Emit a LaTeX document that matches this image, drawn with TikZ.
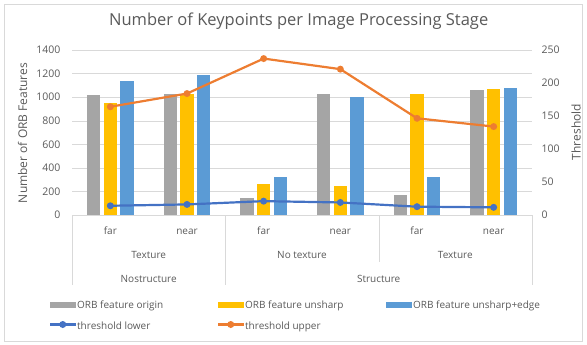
\documentclass[tikz,border=0pt]{standalone}
\usepackage{fontspec}
\setmainfont{Open Sans}
\usepackage{tikz}
\usetikzlibrary{positioning}
\definecolor{txtgray}{HTML}{595959}
\definecolor{gridgray}{HTML}{D9D9D9}
\definecolor{barorigin}{HTML}{A5A5A5}
\definecolor{barunsharp}{HTML}{FFC000}
\definecolor{baredge}{HTML}{5B9BD5}
\definecolor{thrlower}{HTML}{4472C4}
\definecolor{thrupper}{HTML}{ED7D31}

\tikzset{
  lbl/.style={text=txtgray,inner sep=0pt,font=\fontsize{10}{12}\selectfont},
  ticklbl/.style={lbl,font=\fontsize{10.5}{12}\selectfont},
  axtitle/.style={lbl,rotate=90,font=\fontsize{12}{14}\selectfont},
  dot/.style={circle,fill=#1,inner sep=0pt,minimum size=7pt},
  series/.style={#1,line width=2.2pt,line join=round}
}

\begin{document}
\begin{tikzpicture}[x=1pt,y=-1pt]
  \useasboundingbox (0,0) rectangle (587,345);
  \draw[gridgray] (4.5,4.5) rectangle (582.5,341.5);
  \node[lbl,anchor=base,font=\fontsize{16.5}{19}\selectfont] (title) at (298.7,25.7)
    {Number of Keypoints per Image Processing Stage};

  % grid and value axes
  \foreach \v in {200,400,...,1400}
    \draw[gridgray] (72,{215-\v*0.117857}) -- (532,{215-\v*0.117857});
  \foreach \v in {0,200,...,1400}
    \node[ticklbl,anchor=east] (yl\v) at (60.5,{215-\v*0.117857}) {\v};
  \foreach \t in {0,50,...,250}
    \node[ticklbl,anchor=west] (yr\t) at (541.5,{215-\t*0.66}) {\t};
  \node[axtitle] (ytitle) at (22.5,133) {Number of ORB Features};
  \node[axtitle] (rtitle) at (576,132) {Threshold};

  % bars (left scale)
  \begin{scope}[shift={(0,215)},y=0.117857pt]
    \fill[barorigin]  (87.0,0) rectangle ++(13.33,1018);
    \fill[barunsharp] (103.67,0) rectangle ++(13.33,948);
    \fill[baredge]    (120.33,0) rectangle ++(13.33,1137);
    \fill[barorigin]  (163.67,0) rectangle ++(13.33,1026);
    \fill[barunsharp] (180.33,0) rectangle ++(13.33,1025);
    \fill[baredge]    (197.0,0) rectangle ++(13.33,1190);
    \fill[barorigin]  (240.33,0) rectangle ++(13.33,144);
    \fill[barunsharp] (257.0,0) rectangle ++(13.33,263);
    \fill[baredge]    (273.67,0) rectangle ++(13.33,320);
    \fill[barorigin]  (317.0,0) rectangle ++(13.33,1026);
    \fill[barunsharp] (333.67,0) rectangle ++(13.33,246);
    \fill[baredge]    (350.33,0) rectangle ++(13.33,1004);
    \fill[barorigin]  (393.67,0) rectangle ++(13.33,167);
    \fill[barunsharp] (410.33,0) rectangle ++(13.33,1026);
    \fill[baredge]    (427.0,0) rectangle ++(13.33,325);
    \fill[barorigin]  (470.33,0) rectangle ++(13.33,1060);
    \fill[barunsharp] (487.0,0) rectangle ++(13.33,1066);
    \fill[baredge]    (503.67,0) rectangle ++(13.33,1074);
  \end{scope}

  % threshold lines (right scale)
  \begin{scope}[shift={(0,215)},y=0.66pt]
    \node[dot=thrupper] (up1) at (110.33,164) {};
    \node[dot=thrupper] (up2) at (187.0,184) {};
    \node[dot=thrupper] (up3) at (263.67,237) {};
    \node[dot=thrupper] (up4) at (340.33,221) {};
    \node[dot=thrupper] (up5) at (417.0,146.5) {};
    \node[dot=thrupper] (up6) at (493.67,134) {};
    \draw[series=thrupper] (up1.center) -- (up2.center) -- (up3.center) -- (up4.center) -- (up5.center) -- (up6.center);
    \node[dot=thrlower] (lo1) at (110.33,14) {};
    \node[dot=thrlower] (lo2) at (187.0,16) {};
    \node[dot=thrlower] (lo3) at (263.67,21) {};
    \node[dot=thrlower] (lo4) at (340.33,19) {};
    \node[dot=thrlower] (lo5) at (417.0,12.6) {};
    \node[dot=thrlower] (lo6) at (493.67,11.6) {};
    \draw[series=thrlower] (lo1.center) -- (lo2.center) -- (lo3.center) -- (lo4.center) -- (lo5.center) -- (lo6.center);
  \end{scope}

  % category axis
  \draw[gridgray] (72,215) -- (532,215);
  \draw[gridgray] (72,215) -- (72,285);
  \draw[gridgray] (225.3,215) -- (225.3,285);
  \draw[gridgray] (378.7,215) -- (378.7,262);
  \draw[gridgray] (532,215) -- (532,285);
  \node[lbl,anchor=base] (c1) at (110.33,234.3) {far};
  \node[lbl,anchor=base] (c2) at (187.0,234.3) {near};
  \node[lbl,anchor=base] (c3) at (263.67,234.3) {far};
  \node[lbl,anchor=base] (c4) at (340.33,234.3) {near};
  \node[lbl,anchor=base] (c5) at (417.0,234.3) {far};
  \node[lbl,anchor=base] (c6) at (493.67,234.3) {near};
  \node[lbl,anchor=base] (tex1) at (148.7,258.3) {Texture};
  \node[lbl,anchor=base] (notex) at (302,258.3) {No texture};
  \node[lbl,anchor=base] (tex2) at (455.3,258.3) {Texture};
  \node[lbl,anchor=base] (nostr) at (148.7,282.7) {Nostructure};
  \node[lbl,anchor=base] (str) at (378.7,282.7) {Structure};

  % legend
  \fill[barorigin] (50,302) rectangle (75.5,307.5);
  \node[lbl,anchor=base west] (lgorigin) at (77,308.3) {ORB feature origin};
  \fill[barunsharp] (218,302) rectangle (243.5,307.5);
  \node[lbl,anchor=base west] (lgunsharp) at (245,308.3) {ORB feature unsharp};
  \fill[baredge] (386,302) rectangle (411.5,307.5);
  \node[lbl,anchor=base west] (lgedge) at (413,308.3) {ORB feature unsharp+edge};
  \coordinate (lwA) at (50,324.5);
  \coordinate (lwB) at (75.5,324.5);
  \draw[series=thrlower] (lwA) -- (lwB);
  \node[dot=thrlower] (lwdot) at (62.75,324.5) {};
  \node[lbl,anchor=base west] (lglower) at (77,329) {threshold lower};
  \coordinate (upA) at (218,324.5);
  \coordinate (upB) at (243.5,324.5);
  \draw[series=thrupper] (upA) -- (upB);
  \node[dot=thrupper] (updot) at (230.75,324.5) {};
  \node[lbl,anchor=base west] (lgupper) at (245,329) {threshold upper};
\end{tikzpicture}
\end{document}
